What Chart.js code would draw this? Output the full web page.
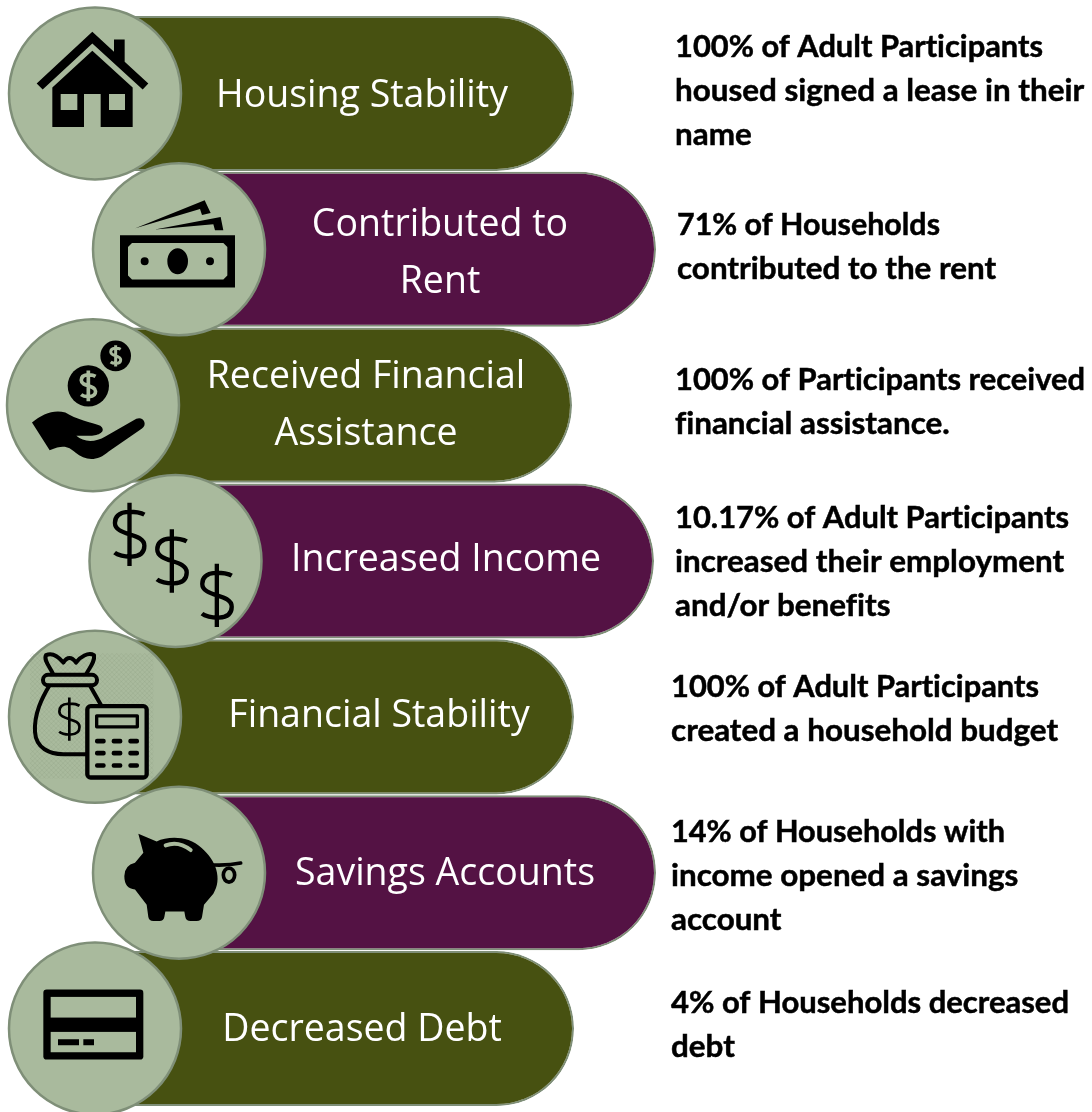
<!DOCTYPE html>
<html>
<head>
<meta charset="utf-8">
<title>Outcomes</title>
<script src="https://cdn.jsdelivr.net/npm/chart.js@4"></script>
<style>
  html, body { margin: 0; padding: 0; background: #fff; overflow: hidden; }
  canvas { display: block; }
</style>
</head>
<body>
<canvas id="myChart" width="1092" height="1112"></canvas>
<script>
// Data
const categories = ["Housing Stability", "Contributed to Rent", "Received Financial Assistance",
  "Increased Income", "Financial Stability", "Savings Accounts", "Decreased Debt"];
const barStart = [95, 179, 93, 175, 95, 179, 95];
const barEnd = [574, 656, 572, 654, 574, 656, 574];
const badgeAt = [95, 179, 93, 175.5, 95, 179, 95];
const pillLines = [["Housing Stability"], ["Contributed to", "Rent"], ["Received Financial", "Assistance"],
  ["Increased Income"], ["Financial Stability"], ["Savings Accounts"], ["Decreased Debt"]];
const detailLines = [
  ["100% of Adult Participants", "housed signed a lease in their", "name"],
  ["71% of Households", "contributed to the rent"],
  ["100% of Participants received", "financial assistance."],
  ["10.17% of Adult Participants", "increased their employment", "and/or benefits"],
  ["100% of Adult Participants", "created a household budget"],
  ["14% of Households with", "income opened a savings", "account"],
  ["4% of Households decreased", "debt"]
];

const OLIVE = "#475111";
const PURPLE = "#541244";
const BADGE = "#a9ba9d";
const EDGE = "#7f8f78";

// text placement
const pillCenter = [362, 440, 366, 446, 379, 445, 362];
const pillBase = [[107], [236, 293], [388, 445], [571], [727], [885], [1041]];
const detailX = [675, 677, 675, 675, 671, 671, 671];
const detailBase = [[57, 101, 145], [235, 279], [390, 434], [528, 572, 616], [697, 741], [842, 886, 930], [1013, 1057]];
const detailRight = [[1043, 1086, 760], [940, 1000], [1085, 955], [1069, 1070, 895], [1039, 1062], [1005, 1022, 785], [1069, 740]];

// Icons are written in 3x crop coordinates, around the badge center
function poly(c, pts) {
  c.moveTo(pts[0], pts[1]);
  for (let i = 2; i < pts.length; i += 2) c.lineTo(pts[i], pts[i + 1]);
  c.closePath();
}

function dollar(c, x, y, s, lw, color) {
  c.save();
  c.translate(x, y);
  c.strokeStyle = color;
  c.lineWidth = lw;
  c.lineCap = "butt";
  c.beginPath();
  c.moveTo(0.47 * s, -0.62 * s);
  c.bezierCurveTo(0.3 * s, -0.72 * s, -0.46 * s, -0.85 * s, -0.46 * s, -0.36 * s);
  c.bezierCurveTo(-0.46 * s, 0.06 * s, 0.47 * s, -0.06 * s, 0.47 * s, 0.36 * s);
  c.bezierCurveTo(0.47 * s, 0.85 * s, -0.3 * s, 0.72 * s, -0.47 * s, 0.58 * s);
  c.moveTo(0, -s);
  c.lineTo(0, s);
  c.stroke();
  c.restore();
}

function roundBox(c, x0, y0, x1, y1, r) {
  c.roundRect(x0, y0, x1 - x0, y1 - y0, r);
}

const icons = [
  function (c) { // house
    c.translate(-285, -280);
    c.fillStyle = "#000";
    c.beginPath();
    poly(c, [277, 95, 342, 155, 342, 118, 374, 118, 374, 185, 445, 250, 428, 268, 277, 130, 128, 268, 110, 250]);
    c.fill();
    c.beginPath();
    poly(c, [277, 152, 398, 262, 398, 381, 302, 381, 302, 282, 252, 282, 252, 381, 157, 381, 157, 262]);
    poly(c, [182, 282, 232, 282, 232, 330, 182, 330]);
    poly(c, [327, 282, 375, 282, 375, 330, 327, 330]);
    c.fill("evenodd");
  },
  function (c) { // bank note
    c.translate(-537, -747);
    c.fillStyle = "#000";
    c.beginPath();
    c.rect(360, 705, 345, 157);
    poly(c, [396, 728, 670, 728, 682, 740, 682, 826, 670, 838, 396, 838, 384, 826, 384, 740]);
    c.fill("evenodd");
    c.beginPath();
    c.ellipse(533, 783, 31, 39, 0, 0, Math.PI * 2);
    c.moveTo(446, 783);
    c.arc(434, 783, 12, 0, Math.PI * 2);
    c.moveTo(642, 783);
    c.arc(630, 783, 12, 0, Math.PI * 2);
    c.fill();
    c.beginPath();
    poly(c, [406, 684, 614, 600, 632, 638, 606, 644, 600, 626]);
    poly(c, [465, 688, 662, 650, 670, 690, 645, 690, 640, 672]);
    c.fill();
  },
  function (c) { // coins over a hand
    c.translate(-278, -258);
    c.fillStyle = "#000";
    c.beginPath();
    c.arc(264, 200, 62, 0, Math.PI * 2);
    c.fill();
    c.beginPath();
    c.arc(346, 110, 46, 0, Math.PI * 2);
    c.fill();
    dollar(c, 264, 200, 46, 11, BADGE);
    dollar(c, 346, 110, 32, 9, BADGE);
    c.beginPath();
    c.moveTo(95, 310);
    c.bezierCurveTo(125, 285, 160, 270, 195, 280);
    c.bezierCurveTo(225, 300, 275, 310, 300, 320);
    c.bezierCurveTo(318, 335, 300, 348, 275, 350);
    c.lineTo(228, 350);
    c.bezierCurveTo(250, 370, 285, 370, 315, 352);
    c.lineTo(408, 299);
    c.bezierCurveTo(428, 290, 443, 315, 425, 328);
    c.lineTo(325, 397);
    c.bezierCurveTo(290, 428, 255, 425, 225, 400);
    c.bezierCurveTo(205, 382, 190, 375, 148, 393);
    c.closePath();
    c.fill();
  },
  function (c) { // three dollar signs
    c.translate(-526, -720);
    dollar(c, 388, 640, 95, 13, "#000");
    dollar(c, 515, 720, 95, 13, "#000");
    dollar(c, 650, 823, 95, 13, "#000");
  },
  function (c) { // money bag and calculator
    c.translate(-285, -275);
    // faint dotted square behind the artwork
    c.save();
    c.beginPath();
    c.rect(90, 85, 370, 375);
    c.clip();
    c.strokeStyle = "rgba(128,148,118,0.25)";
    c.lineWidth = 2;
    c.beginPath();
    for (let k = -400; k < 500; k += 14) {
      c.moveTo(90, 85 + k);
      c.lineTo(470, 465 + k);
      c.moveTo(90, 465 + k);
      c.lineTo(470, 85 + k);
    }
    c.stroke();
    c.restore();
    c.strokeStyle = "#000";
    c.lineWidth = 12;
    c.lineJoin = "round";
    c.beginPath();
    c.moveTo(150, 178);
    c.bezierCurveTo(125, 220, 102, 265, 105, 320);
    c.bezierCurveTo(108, 370, 150, 387, 190, 387);
    c.lineTo(262, 387);
    c.moveTo(268, 178);
    c.lineTo(305, 243);
    c.stroke();
    c.beginPath();
    roundBox(c, 129, 149, 291, 180, 15);
    c.stroke();
    c.beginPath();
    c.moveTo(160, 148);
    c.bezierCurveTo(150, 125, 130, 105, 138, 90);
    c.bezierCurveTo(160, 80, 180, 100, 190, 112);
    c.quadraticCurveTo(208, 85, 228, 112);
    c.bezierCurveTo(240, 95, 265, 80, 282, 90);
    c.bezierCurveTo(285, 110, 270, 125, 258, 148);
    c.stroke();
    dollar(c, 208, 282, 65, 8, "#000");
    c.fillStyle = BADGE;
    c.lineWidth = 13;
    c.beginPath();
    roundBox(c, 262, 243, 440, 457, 10);
    c.fill();
    c.stroke();
    c.lineWidth = 10;
    c.beginPath();
    c.rect(290, 272, 122, 33);
    c.stroke();
    c.fillStyle = "#000";
    [348, 384, 421].forEach(function (y) {
      [285, 335, 385].forEach(function (x) {
        c.beginPath();
        c.roundRect(x, y - 7, 32, 14, 6);
        c.fill();
      });
    });
  },
  function (c) { // piggy bank
    c.translate(-537, -742);
    c.fillStyle = "#000";
    c.beginPath();
    c.moveTo(415, 625);
    c.lineTo(470, 648);
    c.bezierCurveTo(505, 632, 565, 630, 605, 668);
    c.bezierCurveTo(648, 705, 668, 760, 640, 805);
    c.lineTo(612, 838);
    c.lineTo(606, 875);
    c.quadraticCurveTo(604, 887, 590, 887);
    c.lineTo(572, 887);
    c.quadraticCurveTo(558, 887, 556, 875);
    c.lineTo(553, 858);
    c.lineTo(496, 858);
    c.lineTo(493, 875);
    c.quadraticCurveTo(491, 887, 478, 887);
    c.lineTo(460, 887);
    c.quadraticCurveTo(447, 887, 445, 875);
    c.lineTo(440, 838);
    c.lineTo(405, 792);
    c.quadraticCurveTo(373, 790, 373, 752);
    c.quadraticCurveTo(373, 720, 405, 712);
    c.lineTo(430, 682);
    c.closePath();
    c.fill();
    c.strokeStyle = BADGE;
    c.lineCap = "round";
    c.lineWidth = 12;
    c.beginPath();
    c.moveTo(497, 660);
    c.quadraticCurveTo(535, 645, 572, 674);
    c.stroke();
    c.strokeStyle = "#000";
    c.lineWidth = 11;
    c.beginPath();
    c.moveTo(625, 718);
    c.quadraticCurveTo(680, 722, 722, 713);
    c.stroke();
    c.beginPath();
    c.ellipse(687, 749, 17, 21, 0, 0, Math.PI * 2);
    c.stroke();
  },
  function (c) { // payment card
    c.translate(-285, -265);
    c.fillStyle = "#000";
    c.beginPath();
    roundBox(c, 130, 148, 430, 358, 10);
    c.fill();
    c.fillStyle = BADGE;
    c.fillRect(152, 170, 256, 62);
    c.fillRect(152, 275, 256, 61);
    c.fillStyle = "#000";
    c.fillRect(174, 297, 63, 18);
    c.fillRect(250, 297, 32, 18);
  }
];

const overlay = {
  id: "overlay",
  afterDatasetsDraw(chart) {
    const c = chart.ctx;
    const badges = chart.getDatasetMeta(1).data;
    badges.forEach(function (p, i) {
      c.save();
      c.translate(p.x, p.y);
      c.scale(1 / 3, 1 / 3);
      icons[i](c);
      c.restore();
    });
    c.save();
    c.textBaseline = "alphabetic";
    c.fillStyle = "#fff";
    c.textAlign = "center";
    c.font = '37.5px "Open Sans"';
    pillLines.forEach(function (lines, i) {
      lines.forEach(function (t, j) { c.fillText(t, pillCenter[i], pillBase[i][j]); });
    });
    c.fillStyle = "#000";
    c.strokeStyle = "#000";
    c.lineWidth = 0.5;
    c.textAlign = "left";
    c.font = '700 31.4px Lato';
    c.letterSpacing = "0.001px"; // keeps Lato from joining "ti" and "fi"
    detailLines.forEach(function (lines, i) {
      lines.forEach(function (t, j) {
        const room = detailRight[i][j] - detailX[i];
        c.fillText(t, detailX[i], detailBase[i][j], room);
        c.strokeText(t, detailX[i], detailBase[i][j], room);
      });
    });
    c.restore();
  }
};

new Chart(document.getElementById("myChart"), {
  data: {
    labels: categories,
    datasets: [
      {
        type: "bar",
        order: 2,
        data: barStart.map((s, i) => [s, barEnd[i]]),
        backgroundColor: categories.map((_, i) => (i % 2 ? PURPLE : OLIVE)),
        borderColor: EDGE,
        borderWidth: 2,
        borderSkipped: false,
        borderRadius: { topLeft: 0, bottomLeft: 0, topRight: 78, bottomRight: 78 },
        barPercentage: 0.995,
        categoryPercentage: 1
      },
      {
        type: "line",
        order: 1,
        data: badgeAt.map((x, i) => ({ x: x, y: categories[i] })),
        showLine: false,
        clip: false,
        pointRadius: 86,
        pointBorderWidth: 2.5,
        pointBackgroundColor: BADGE,
        pointBorderColor: EDGE
      }
    ]
  },
  options: {
    indexAxis: "y",
    responsive: false,
    animation: false,
    layout: { autoPadding: false, padding: { top: 15.5, bottom: 5.5, left: 0, right: 0 } },
    plugins: { legend: { display: false }, tooltip: { enabled: false } },
    scales: {
      x: { type: "linear", min: 0, max: 1092, display: false },
      y: { type: "category", display: false }
    }
  },
  plugins: [overlay]
});
</script>
</body>
</html>
